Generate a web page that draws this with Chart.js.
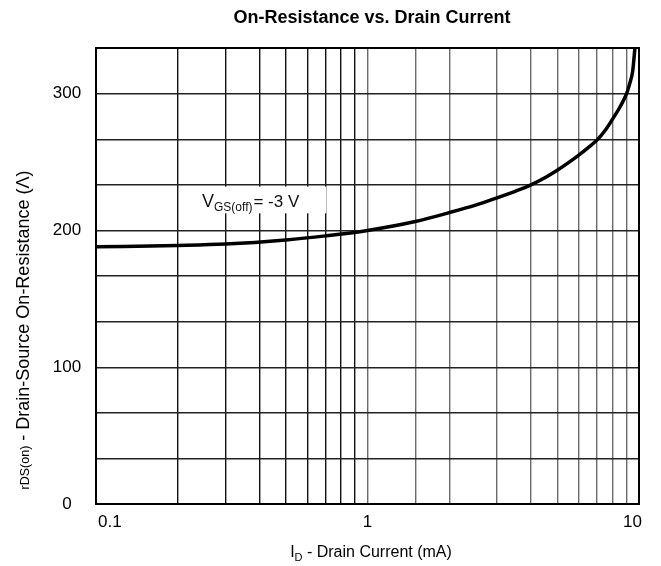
<!DOCTYPE html>
<html>
<head>
<meta charset="utf-8">
<title>On-Resistance vs. Drain Current</title>
<script src="https://cdn.jsdelivr.net/npm/chart.js@4.4.1/dist/chart.umd.min.js"></script>
<style>
    html, body { margin: 0; padding: 0; background: #fff; }
    #wrap { width: 661px; height: 566px; }
</style>
</head>
<body>
<div id="wrap"><canvas id="chart" width="661" height="566"></canvas></div>
<script>
// drain current (mA) and rDS(on)
const currentMA = [0.1, 0.2, 0.3, 0.5, 0.7, 1, 1.5, 2, 2.5, 3, 3.5, 4, 4.5, 5, 5.5, 6, 6.5, 7, 7.5, 8, 8.5, 9, 9.25, 9.48, 9.66];
const resistance = [188, 189, 190, 193, 196, 200, 206.5, 213, 218.5, 223.8, 228.6, 233.3, 238.5, 244, 249.5, 255, 260.5, 266, 273, 281.5, 290, 300, 307.5, 316.5, 333.3];

const xTickValues = [0.1, 1, 10];
const xTickLabels = ['0.1', '1', '10'];
const yTickValues = [0, 100, 200, 300];
const yTickLabels = ['0', '100', '200', '300'];

const FONT = "'Liberation Sans', Arial, sans-serif";

const textPlugin = {
    id: 'texts',
    afterDatasetsDraw(chart) {
        const { ctx, scales: { x, y } } = chart;
        ctx.save();

        // annotation box (hides grid behind the label)
        const bx1 = x.getPixelForValue(0.212), bx2 = x.getPixelForValue(0.705);
        const by1 = y.getPixelForValue(232), by2 = y.getPixelForValue(212.5);
        ctx.fillStyle = '#fff';
        ctx.fillRect(bx1, by1, bx2 - bx1, by2 - by1);

        ctx.fillStyle = '#111';
        ctx.textBaseline = 'alphabetic';
        ctx.textAlign = 'left';
        let tx = 202, ty = 207;
        ctx.font = `18px ${FONT}`;
        ctx.fillText('V', tx, ty);
        tx += ctx.measureText('V').width;
        ctx.font = `12px ${FONT}`;
        ctx.fillText('GS(off)', tx, ty + 4);
        tx += ctx.measureText('GS(off)').width + 1;
        ctx.font = `17px ${FONT}`;
        ctx.fillText('= -3 V', tx, ty);
        ctx.restore();
    },
    afterDraw(chart) {
        const { ctx, chartArea: a, scales: { x, y } } = chart;
        ctx.save();

        // frame
        ctx.strokeStyle = '#000';
        ctx.lineWidth = 2;
        ctx.strokeRect(a.left, a.top, a.right - a.left, a.bottom - a.top);

        ctx.fillStyle = '#000';
        // title
        ctx.font = `bold 18px ${FONT}`;
        ctx.textAlign = 'center';
        ctx.textBaseline = 'middle';
        ctx.fillText('On-Resistance vs. Drain Current', 372, 18);

        // y tick labels
        ctx.font = `17px ${FONT}`;
        ctx.textAlign = 'center';
        yTickValues.forEach((v, i) => {
            ctx.fillText(yTickLabels[i], 67, y.getPixelForValue(v));
        });

        // x tick labels
        xTickValues.forEach((v, i) => {
            const px = x.getPixelForValue(v);
            if (i === 0) { ctx.textAlign = 'left'; ctx.fillText(xTickLabels[i], px + 2, a.bottom + 18); }
            else if (i === xTickValues.length - 1) { ctx.textAlign = 'right'; ctx.fillText(xTickLabels[i], px + 3, a.bottom + 18); }
            else { ctx.textAlign = 'center'; ctx.fillText(xTickLabels[i], px, a.bottom + 18); }
        });

        // x title with subscript
        const xMain = ' - Drain Current (mA)';
        ctx.font = `16px ${FONT}`;
        const wI = ctx.measureText('I').width;
        const wMain = ctx.measureText(xMain).width;
        ctx.font = `11px ${FONT}`;
        const wD = ctx.measureText('D').width;
        const sx = 371 - (wI + wD + wMain) / 2;
        const sy = 557;
        ctx.textAlign = 'left';
        ctx.textBaseline = 'alphabetic';
        ctx.font = `16px ${FONT}`;
        ctx.fillText('I', sx, sy);
        ctx.font = `11px ${FONT}`;
        ctx.fillText('D', sx + wI, sy + 4);
        ctx.font = `16px ${FONT}`;
        ctx.fillText(xMain, sx + wI + wD, sy);

        // y title, rotated
        ctx.translate(29, 330);
        ctx.rotate(-Math.PI / 2);
        const yMain = ' - Drain-Source On-Resistance (\u039B)';
        ctx.font = `12.5px ${FONT}`;
        const wR = ctx.measureText('rDS(on)').width;
        ctx.font = `18px ${FONT}`;
        const wY = ctx.measureText(yMain).width;
        const ry = -(wR + wY) / 2;
        ctx.font = `12.5px ${FONT}`;
        ctx.fillText('rDS(on)', ry, 0);
        ctx.font = `18px ${FONT}`;
        ctx.fillText(yMain, ry + wR, 0);
        ctx.restore();
    }
};

new Chart(document.getElementById('chart').getContext('2d'), {
    type: 'line',
    data: {
        datasets: [{
            data: currentMA.map((c, i) => ({ x: c, y: resistance[i] })),
            borderColor: '#000',
            borderWidth: 3.5,
            pointRadius: 0,
            fill: false,
            cubicInterpolationMode: 'monotone'
        }]
    },
    options: {
        responsive: false,
        animation: false,
        layout: { padding: { left: 96, right: 22, top: 48, bottom: 62 } },
        plugins: { legend: { display: false }, tooltip: { enabled: false }, title: { display: false } },
        scales: {
            x: {
                type: 'logarithmic',
                min: 0.1,
                max: 10,
                border: { display: false },
                grid: {
                    drawTicks: false,
                    lineWidth: 1.4,
                    color: ctx => (ctx.tick && ctx.tick.value < 0.95 ? '#111' : '#6a6a6a')
                },
                ticks: { display: false }
            },
            y: {
                min: 0,
                max: 1000 / 3,
                border: { display: false },
                grid: { drawTicks: false, lineWidth: 1.4, color: '#222' },
                ticks: { display: false, stepSize: 100 / 3 }
            }
        }
    },
    plugins: [textPlugin]
});
</script>
</body>
</html>
